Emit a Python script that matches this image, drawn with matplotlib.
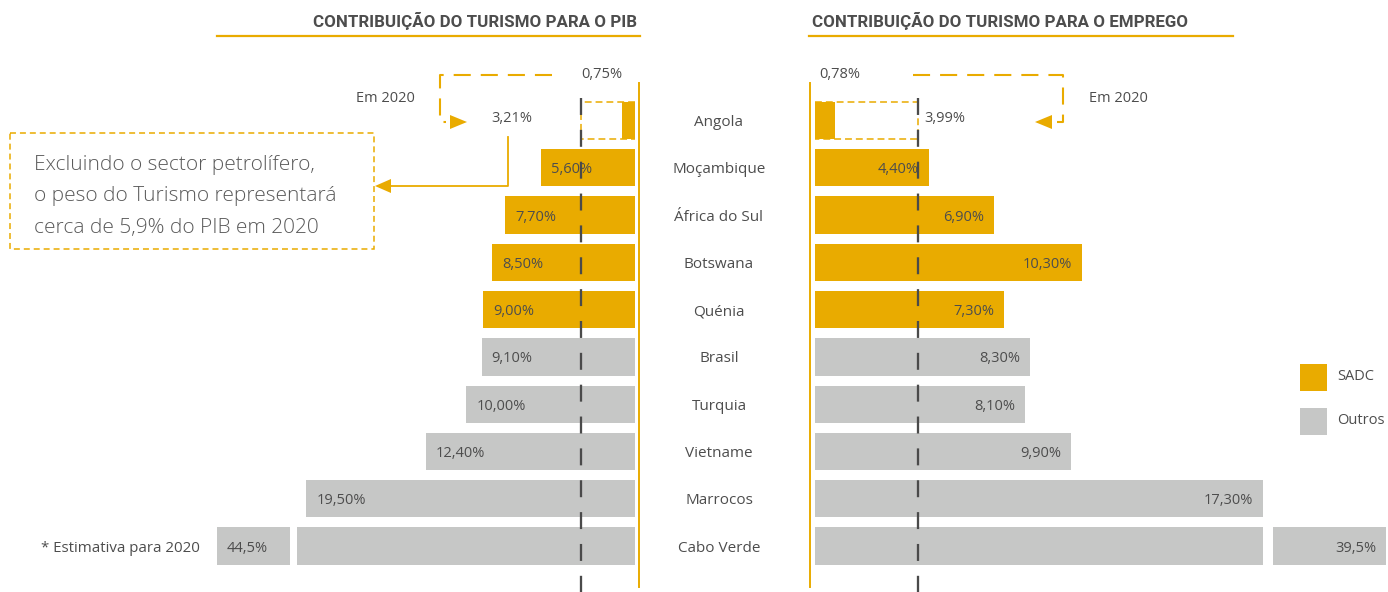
import matplotlib
matplotlib.use('Agg')
import matplotlib.pyplot as plt
from matplotlib.patches import Rectangle, Polygon
from matplotlib.lines import Line2D
from matplotlib.transforms import Affine2D

plt.rcParams['font.family'] = ['Open Sans', 'DejaVu Sans']

# Dados
paises = ['Angola', 'Moçambique', 'África do Sul', 'Botswana', 'Quénia',
          'Brasil', 'Turquia', 'Vietname', 'Marrocos', 'Cabo Verde']
grupo = ['SADC'] * 5 + ['Outros'] * 5
pib = [0.75, 5.60, 7.70, 8.50, 9.00, 9.10, 10.00, 12.40, 19.50, 44.5]
emprego = [0.78, 4.40, 6.90, 10.30, 7.30, 8.30, 8.10, 9.90, 17.30, 39.5]
pib_angola_2020 = 3.21
emprego_angola_2020 = 3.99

OURO = '#E9AB00'
CINZA = '#C6C7C6'
TEXTO = '#4D4D4D'
TRACO = '#4A4A4A'

W, H = 1388, 592
fig = plt.figure(figsize=(W / 100, H / 100), dpi=100)
# transformação em píxeis (origem no canto superior esquerdo)
px = Affine2D().scale(1 / W, -1 / H).translate(0, 1) + fig.transFigure

ROW0, ROW_H = 120.5, 47.28
ALT = 0.79
y_top = -ROW0 / ROW_H
y_bot = (H - ROW0) / ROW_H
y_traco = (98 - ROW0) / ROW_H
cores = [OURO if g == 'SADC' else CINZA for g in grupo]
linhas = range(len(paises))


def fmt(v, casas=2):
    return f'{v:.{casas}f}'.replace('.', ',') + '%'


def caixa_2020(ax, v):
    # contorno tracejado da estimativa de Angola para 2020 (aberto no eixo)
    ax.plot([0, v, v, 0], [-ALT / 2, -ALT / 2, ALT / 2, ALT / 2],
            color=OURO, lw=1.1, dashes=(4.5, 2.6), zorder=1)


# ---------------- PIB (barras para a esquerda) ----------------
esc1, zero1 = 16.85, 635
ax1 = fig.add_axes([297 / W, 0, (639 - 297) / W, 1])
ax1.set_xlim((zero1 - 297) / esc1, -(639 - zero1) / esc1)
ax1.set_ylim(y_bot, y_top)
ax1.axis('off')
caixa_2020(ax1, pib_angola_2020)
ax1.barh(linhas, pib, height=ALT, color=cores, zorder=2)
ax1.plot([pib_angola_2020] * 2, [y_traco, y_bot], color=TRACO, lw=1.65,
         dashes=(7.4, 6.5), zorder=4)
for i in range(1, len(paises) - 1):
    ax1.annotate(fmt(pib[i]), (pib[i], i), xytext=(7.2, 0),
                 textcoords='offset points', ha='left', va='center_baseline',
                 fontsize=10.5, color=TEXTO, zorder=5)

# ---------------- Emprego (barras para a direita) ----------------
esc2, zero2 = 25.9, 815
ax2 = fig.add_axes([810 / W, 0, (1263 - 810) / W, 1])
ax2.set_xlim(-(zero2 - 810) / esc2, (1263 - zero2) / esc2)
ax2.set_ylim(y_bot, y_top)
ax2.axis('off')
caixa_2020(ax2, emprego_angola_2020)
ax2.barh(linhas, emprego, height=ALT, color=cores, zorder=2)
ax2.plot([emprego_angola_2020] * 2, [y_traco, y_bot], color=TRACO, lw=1.65,
         dashes=(7.4, 6.5), zorder=4)
for i in range(1, len(paises) - 1):
    ax2.annotate(fmt(emprego[i]), (emprego[i], i), xytext=(-7.2, 0),
                 textcoords='offset points', ha='right', va='center_baseline',
                 fontsize=10.5, color=TEXTO, zorder=5)

# Cabo Verde: barra interrompida com caixa de valor à parte
ycv = ROW0 + ROW_H * (len(paises) - 1)
hb = ALT * ROW_H
fig.add_artist(Rectangle((217, ycv - hb / 2), 73, hb, transform=px,
                         facecolor=CINZA, edgecolor='none'))
fig.text(227, ycv, fmt(pib[-1], 1), transform=px, ha='left',
         va='center_baseline', fontsize=10.5, color=TEXTO)
fig.add_artist(Rectangle((1273, ycv - hb / 2), 113, hb, transform=px,
                         facecolor=CINZA, edgecolor='none'))
fig.text(1376, ycv, fmt(emprego[-1], 1), transform=px, ha='right',
         va='center_baseline', fontsize=10.5, color=TEXTO)
fig.text(200, ycv, '* Estimativa para 2020', transform=px, ha='right',
         va='center_baseline', fontsize=10.8, color=TEXTO)

# nomes dos países ao centro
for i, nome in enumerate(paises):
    fig.text(719, ROW0 + ROW_H * i, nome, transform=px, ha='center',
             va='center_baseline', fontsize=11, color=TEXTO)

# linhas verticais douradas e títulos
for x in (639, 810):
    fig.add_artist(Line2D([x, x], [83, 587], transform=px, color=OURO, lw=1.4))
fig.add_artist(Line2D([217, 640], [36, 36], transform=px, color=OURO, lw=1.6))
fig.add_artist(Line2D([809, 1233], [36, 36], transform=px, color=OURO, lw=1.6))
titulo = dict(transform=px, va='center', fontsize=12.2, fontweight='bold',
              color=TEXTO, family=['Roboto', 'Open Sans'])
fig.text(637, 21, 'CONTRIBUIÇÃO DO TURISMO PARA O PIB', ha='right', **titulo)
fig.text(812, 21, 'CONTRIBUIÇÃO DO TURISMO PARA O EMPREGO', ha='left', **titulo)

# Angola: valores atuais e estimativas para 2020
fig.text(602, 75, fmt(pib[0]), transform=px, ha='center', va='center',
         fontsize=10.5, color=TEXTO)
fig.text(840, 75, fmt(emprego[0]), transform=px, ha='center', va='center',
         fontsize=10.5, color=TEXTO)
fig.text(512, 118, fmt(pib_angola_2020), transform=px, ha='center',
         va='center', fontsize=10.5, color=TEXTO)
fig.text(945, 118, fmt(emprego_angola_2020), transform=px, ha='center',
         va='center', fontsize=10.5, color=TEXTO)
fig.text(385, 98, 'Em 2020', transform=px, ha='center', va='center',
         fontsize=10.5, color=TEXTO)
fig.text(1118, 98, 'Em 2020', transform=px, ha='center', va='center',
         fontsize=10.5, color=TEXTO)

fig.add_artist(Line2D([552, 440, 440, 446], [75, 75, 122, 122], transform=px,
                      color=OURO, lw=1.5, dashes=(8.2, 4.8)))
fig.add_artist(Polygon([(450, 115), (450, 129), (467, 122)], closed=True,
                       transform=px, facecolor=OURO, edgecolor='none'))
fig.add_artist(Line2D([913, 1063, 1063, 1057], [75, 75, 122, 122], transform=px,
                      color=OURO, lw=1.5, dashes=(8.2, 4.8)))
fig.add_artist(Polygon([(1052, 115), (1052, 129), (1035, 122)], closed=True,
                       transform=px, facecolor=OURO, edgecolor='none'))

# nota sobre o sector petrolífero
fig.add_artist(Rectangle((10, 133), 364, 116, transform=px, fill=False,
                         edgecolor=OURO, lw=1.1, linestyle=(0, (3.9, 2.6))))
nota = ['Excluindo o sector petrolífero,',
        'o peso do Turismo representará',
        'cerca de 5,9% do PIB em 2020']
for k, linha in enumerate(nota):
    fig.text(34, 170 + 31.5 * k, linha, transform=px, ha='left',
             va='baseline', fontsize=15, fontweight='light', color='#5A5A5A')
fig.add_artist(Line2D([508, 508, 390], [137, 186, 186], transform=px,
                      color=OURO, lw=1.3))
fig.add_artist(Polygon([(391, 179), (391, 193), (375, 186)], closed=True,
                       transform=px, facecolor=OURO, edgecolor='none'))

# legenda
fig.add_artist(Rectangle((1300, 364), 27, 27, transform=px, facecolor=OURO,
                         edgecolor='none'))
fig.add_artist(Rectangle((1300, 408), 27, 27, transform=px, facecolor=CINZA,
                         edgecolor='none'))
fig.text(1337, 377, 'SADC', transform=px, ha='left', va='center',
         fontsize=10.5, color=TEXTO)
fig.text(1337, 421, 'Outros', transform=px, ha='left', va='center',
         fontsize=10.5, color=TEXTO)

fig.savefig('out.png', dpi=100, facecolor='white')
